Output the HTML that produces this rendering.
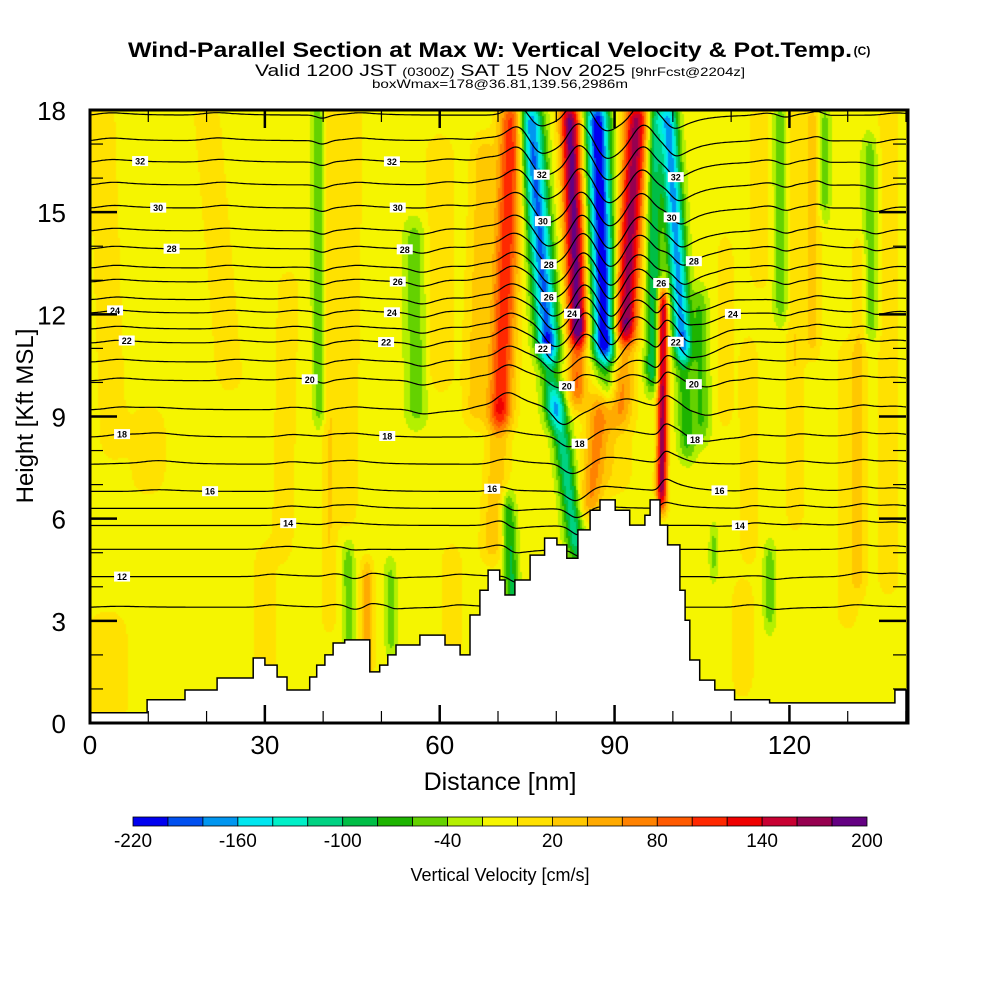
<!DOCTYPE html>
<html><head><meta charset="utf-8"><style>
body{margin:0;background:#fff;width:1000px;height:1000px;overflow:hidden;position:relative;font-family:"Liberation Sans",sans-serif}
#fld{position:absolute;left:90px;top:110px}
#ov{position:absolute;left:0;top:0}
</style></head><body>
<canvas id="fld" width="818" height="613"></canvas>
<svg id="ov" width="1000" height="1000" xmlns="http://www.w3.org/2000/svg">
<g id="contours"></g>
<path id="terrain" fill="#fff" stroke="#000" stroke-width="1.5"/>
<g id="labels"></g>
<g id="axes"></g>
<g>
<text x="490" y="57" font-size="21" font-weight="bold" text-anchor="middle" textLength="724" lengthAdjust="spacingAndGlyphs">Wind-Parallel Section at Max W: Vertical Velocity &amp; Pot.Temp.</text>
<text x="862" y="55" font-size="12" font-weight="bold" text-anchor="middle">(C)</text>
<text x="500" y="76" font-size="17" text-anchor="middle" textLength="490" lengthAdjust="spacingAndGlyphs">Valid 1200 JST <tspan font-size="12">(0300Z)</tspan> SAT 15 Nov 2025 <tspan font-size="12">[9hrFcst@2204z]</tspan></text>
<text x="500" y="88" font-size="12" text-anchor="middle" textLength="256" lengthAdjust="spacingAndGlyphs">boxWmax=178@36.81,139.56,2986m</text>
</g>
<text x="500" y="790" font-size="25" text-anchor="middle">Distance [nm]</text>
<text transform="translate(33,416) rotate(-90)" font-size="24" text-anchor="middle">Height [Kft MSL]</text>
<g id="cbar"></g>
<text x="500" y="881" font-size="18" text-anchor="middle">Vertical Velocity [cm/s]</text>
</svg>
<script>
const palette=["#0000f0","#0050f0","#0096f0","#00e6f0","#00f0c8","#00d282","#00be46","#1eb400","#64d200","#b4f000","#f5f500","#ffe100","#ffc800","#ffaa00","#ff8200","#ff5a00","#ff2800","#f00000","#c80032","#960050","#640082"];
const cbarTicks=[-220,-160,-100,-40,20,80,140,200];
const xTicks=[0,30,60,90,120];
const yTicks=[0,3,6,9,12,15,18];
const bgW=-10;
// features: [xTop nm, xBot nm, zTop kft, zBot kft, amplitude cm/s, half-width nm]
const features=[
[72.4,70.3,18,9,125,2.1],[70.3,69,9,5,45,2],
[75.5,78.6,18,11,-175,2],[78.6,79.5,11,9,-80,1.7],
[82.3,83.7,18,11.5,200,1.7],[83.7,83.5,11.5,9.5,90,1.6],
[87,88.3,18,11,-210,2],[88.3,89,11,9.5,-70,1.7],
[93.8,91.8,18,11.5,180,2],[91.8,91,11.5,9,60,2],
[96.9,96.5,18,10,-90,1.3],
[99.1,101.7,18,11,-160,1.6],[101.7,102.5,11,8,-60,1.5],
[98.3,98.1,12.5,6.5,180,0.9],
[80.1,83.5,9.5,5,-100,1.6],[87.5,85.8,9.5,6.3,70,2],
[71.7,72.5,6.5,3.5,-75,1.2],
[39.1,39.4,18,9,-50,1.1],[41.2,41,18,3,30,1.3],[55.7,56,14.5,9,-45,1.8],
[104.6,105,12.5,8.5,-50,1.4],[118.4,118.6,18,12,-45,1.3],[133.8,134,17,11.5,-45,1.3],[126,126,18,15,-40,1],
[44.3,44.5,5,2.4,-45,1],[51.5,51.7,4.5,2.2,-40,1],[116.6,116.6,5,3,-45,1],[107,107,5.5,4.5,-40,0.7],
[47.5,47.5,4.5,1.5,60,1.1],[67.5,66,17,9,40,2],[121,121,18,6,30,1.5],[124,124,18,11,40,1.3],
[113,113,11,5,30,1.5],[132,132,14,4,30,1.3],[10,10,9,7,25,3],[3,3,3,0,25,3.5],[60,60,17,10,25,2.5],[109,109,14,9,25,1.4],
[2,4,18,8,22,2.5],[20,24,18,10,22,2.5],[34,33,13,5,22,2],[45,44,18,6,22,2],[30,30,5,1,22,2],[62,62,5,2,22,2],
[115,115,18,13,22,2],[130,130,11,3,22,2],[137,137,18,4,22,2],[112,112,4,1,22,2],[90,90,10,7,25,3]
];
const thetaLevels=[11,12,13,14,15,16,17,18,19,20,21,22,23,24,25,26,27,28,29,30,31,32,33,34];
const thetaBase=[3.4,4.3,5.1,5.8,6.3,6.8,7.6,8.4,9.2,10.05,10.6,11.16,11.57,12.04,12.43,12.95,13.36,13.92,14.45,15.12,15.8,16.47,17.1,17.85];
// [level, distance nm]
const labelPos=[[32,8.6],[30,11.7],[28,14],[24,4.3],[22,6.3],[20,37.7],[18,5.5],[18,51],[16,20.6],[14,34],[12,5.5],
[32,51.8],[30,52.8],[28,54],[26,52.8],[24,51.8],[22,50.8],[16,69],[20,81.8],[18,84],[22,77.7],[26,78.7],[28,78.7],[30,77.7],[32,77.5],
[24,82.7],[26,98],[28,103.6],[30,99.8],[32,100.5],[22,100.5],[20,103.6],[18,103.8],[16,108],[14,111.5],[24,110.3]];
// terrain steps [start nm, height kft]
const terrainSteps=[[0,0.3],[9.8,0.68],[16.3,0.97],[21.8,1.32],[28,1.91],[30,1.7],[32.1,1.35],[33.8,0.97],[37.7,1.35],[38.9,1.7],[40.3,2.0],[41.7,2.35],[43.7,2.44],[48,1.5],[49.7,1.7],[51.1,2.0],[52.5,2.29],[56.6,2.58],[60.9,2.29],[63.5,2.0],[65.2,3.17],[66.9,3.9],[68.3,4.49],[70.3,4.2],[71.2,3.76],[72.9,4.2],[75.5,4.93],[78,5.43],[80.1,5.23],[81.8,4.84],[83.7,5.67],[85.8,6.25],[87.5,6.55],[90.1,6.25],[92.6,5.81],[95.2,6.1],[96.1,6.55],[97.8,5.81],[99.1,5.23],[101.2,3.9],[102.1,3.02],[102.9,1.85],[104.6,1.26],[107.2,0.97],[110.6,0.68],[116.6,0.59],[138.1,0.97]];

const X0=90,X1=906,Y0=723,Y1=110,XMAX=140,YMAX=18;
const sx=v=>X0+v*(X1-X0)/XMAX, sy=v=>Y0-v*(Y0-Y1)/YMAX;
const NS='http://www.w3.org/2000/svg';
function sm(t){t=Math.max(0,Math.min(1,t));return t*t*(3-2*t);}
function wAt(x,z){let w=bgW;for(const f of features){const [xt,xb,zt,zb,a,hw]=f;if(z>zt+0.8||z<zb-0.8)continue;
 const tz=Math.max(0,Math.min(1,(zt-z)/(zt-zb)));const xc=xt+(xb-xt)*tz;const d=(x-xc)/hw;if(Math.abs(d)>3)continue;
 const tap=sm((zt+0.8-z)/1.2)*sm((z-zb+0.8)/1.2);w+=a*Math.exp(-d*d)*tap;}return w;}
// field
const cv=document.getElementById('fld'),ctx=cv.getContext('2d');
for(let py=0;py<613;py+=2)for(let px=0;px<818;px+=2){const x=(px+1)*XMAX/816,z=YMAX-(py+1)*YMAX/613;
 const w=wAt(x,z);let i=Math.floor((w+220)/20);i=Math.max(0,Math.min(20,i));ctx.fillStyle=palette[i];ctx.fillRect(px,py,2,2);}
// contours
const K=1/600,DECAY=Math.exp(-0.25/3.5);const cg=document.getElementById('contours');const lines={};
thetaLevels.forEach((lv,k)=>{const z0=thetaBase[k];let I=0,pts=[],arr=[];
 for(let x=0;x<=XMAX+0.001;x+=0.25){I=I*DECAY+(wAt(x,z0)-bgW)*0.25;let z=Math.min(17.98,z0+K*I);arr.push([x,z]);pts.push(sx(x).toFixed(1)+','+sy(z).toFixed(1));}
 lines[lv]=arr;const p=document.createElementNS(NS,'polyline');p.setAttribute('points',pts.join(' '));p.setAttribute('fill','none');p.setAttribute('stroke','#000');p.setAttribute('stroke-width','1.2');
 
 
 cg.appendChild(p);});
// terrain
let d='M'+sx(0)+','+sy(0);terrainSteps.forEach((s,i)=>{const xe=i+1<terrainSteps.length?terrainSteps[i+1][0]:XMAX;d+=' L'+sx(s[0]).toFixed(1)+','+sy(s[1]).toFixed(1)+' L'+sx(xe).toFixed(1)+','+sy(s[1]).toFixed(1);});
d+=' L'+sx(XMAX)+','+sy(0)+' Z';document.getElementById('terrain').setAttribute('d',d);
// labels
const lg=document.getElementById('labels');
labelPos.forEach(([lv,x])=>{const arr=lines[lv];if(!arr)return;const z=arr[Math.round(x/0.25)][1];const cx=sx(x),cy=sy(z);
 const r=document.createElementNS(NS,'rect');r.setAttribute('x',cx-8);r.setAttribute('y',cy-5);r.setAttribute('width',16);r.setAttribute('height',10);r.setAttribute('fill','#fff');
 
 
 lg.appendChild(r);
 const t=document.createElementNS(NS,'text');t.setAttribute('x',cx);t.setAttribute('y',cy+3.5);t.setAttribute('font-size','9');t.setAttribute('font-weight','bold');t.setAttribute('text-anchor','middle');t.textContent=lv;
 
 
 lg.appendChild(t);});
// axes
const ag=document.getElementById('axes');
function ln(x1,y1,x2,y2,w,name){const l=document.createElementNS(NS,'line');l.setAttribute('x1',x1);l.setAttribute('y1',y1);l.setAttribute('x2',x2);l.setAttribute('y2',y2);l.setAttribute('stroke','#000');l.setAttribute('stroke-width',w);
 
 
 ag.appendChild(l);}
function tx(x,y,s,size,anchor,name){const t=document.createElementNS(NS,'text');t.setAttribute('x',x);t.setAttribute('y',y);t.setAttribute('font-size',size);t.setAttribute('text-anchor',anchor);t.textContent=s;
 
 
 ag.appendChild(t);}
for(let v=0;v<=XMAX;v+=10){const x=sx(v),L=v%30===0?18:12;ln(x,Y0,x,Y0-L,v%30===0?2.5:1.2,'x-tick');ln(x,Y1,x,Y1+L,v%30===0?2.5:1.2,'x-tick-top');}
for(let v=0;v<=YMAX;v+=1){const y=sy(v),L=v%3===0?27:13;ln(X0,y,X0+L,y,v%3===0?2.5:1.2,'y-tick');ln(X1,y,X1-L,y,v%3===0?2.5:1.2,'y-tick-right');}
xTicks.forEach(v=>tx(sx(v),754,v,26,'middle','x-tick-label'));
yTicks.forEach(v=>tx(66,sy(v)+10,v,26,'end','y-tick-label'));
const fr=document.createElementNS(NS,'rect');fr.setAttribute('x',X0);fr.setAttribute('y',Y1);fr.setAttribute('width',X1-X0+2);fr.setAttribute('height',Y0-Y1);fr.setAttribute('fill','none');fr.setAttribute('stroke','#000');fr.setAttribute('stroke-width','3');


ag.appendChild(fr);
// colorbar
const cb=document.getElementById('cbar');const C0=133,C1=867,cw=(C1-C0)/palette.length;
palette.forEach((c,i)=>{const r=document.createElementNS(NS,'rect');r.setAttribute('x',C0+i*cw);r.setAttribute('y',817);r.setAttribute('width',cw);r.setAttribute('height',9);r.setAttribute('fill',c);r.setAttribute('stroke','#000');r.setAttribute('stroke-width','0.8');
 
 
 cb.appendChild(r);});
cbarTicks.forEach(v=>{const t=document.createElementNS(NS,'text');t.setAttribute('x',C0+(v+220)/20*cw);t.setAttribute('y',847);t.setAttribute('font-size','19');t.setAttribute('text-anchor','middle');t.textContent=v;
 
 
 cb.appendChild(t);});
</script>
</body></html>
